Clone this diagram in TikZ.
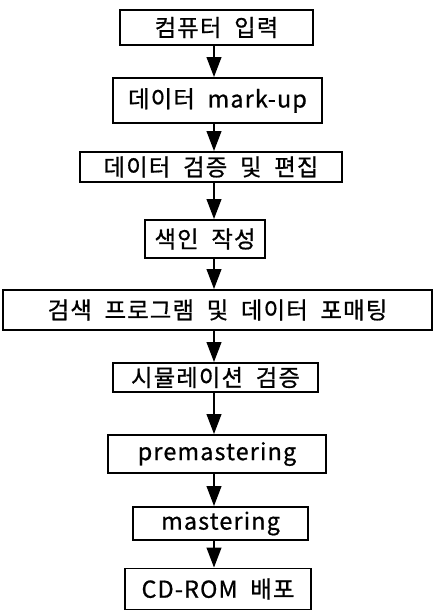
\documentclass[tikz,border=0pt]{standalone}
\usepackage{fontspec}
\setmainfont{Noto Sans CJK KR}[LetterSpace=5,WordSpace=2,FakeBold=0.8]
\usetikzlibrary{arrows.meta}
\tikzset{
  stepbox/.style={draw, line width=1.4pt, inner sep=0pt, font=\fontsize{17.5}{19}\selectfont},
  flow/.style={line width=1.5pt, -{Triangle[length=15pt,width=11pt]}}
}
\begin{document}
\begin{tikzpicture}[x=0.75pt,y=-0.75pt]
\useasboundingbox (0,0) rectangle (434,611);
\node[stepbox, minimum width=193*0.75pt, minimum height=35*0.75pt] (b1) at (216.5,27.5) {컴퓨터 입력};
\node[stepbox, minimum width=209*0.75pt, minimum height=45*0.75pt] (b2) at (217.5,100.5) {데이터 mark-up};
\node[stepbox, minimum width=262*0.75pt, minimum height=30*0.75pt] (b3) at (211,167) {데이터 검증 및 편집};
\node[stepbox, minimum width=120*0.75pt, minimum height=38*0.75pt] (b4) at (205,239) {색인 작성};
\node[stepbox, minimum width=429*0.75pt, minimum height=40*0.75pt] (b5) at (217.5,310) {검색 프로그램 및 데이터 포매팅};
\node[stepbox, minimum width=205*0.75pt, minimum height=29*0.75pt] (b6) at (215.5,377.5) {시뮬레이션 검증};
\node[stepbox, minimum width=218*0.75pt, minimum height=38*0.75pt] (b7) at (217,454) {premastering};
\node[stepbox, minimum width=175*0.75pt, minimum height=33*0.75pt] (b8) at (220.5,523.5) {mastering};
\node[stepbox, minimum width=186*0.75pt, minimum height=41*0.75pt] (b9) at (218,589) {CD-ROM 배포};
\coordinate (ax) at (214,0);
\foreach \a/\b in {b1/b2,b2/b3,b3/b4,b4/b5,b5/b6,b6/b7,b7/b8,b8/b9}{
  \draw[flow] (\a.south -| ax) -- (\b.north -| ax);
}
\end{tikzpicture}
\end{document}
